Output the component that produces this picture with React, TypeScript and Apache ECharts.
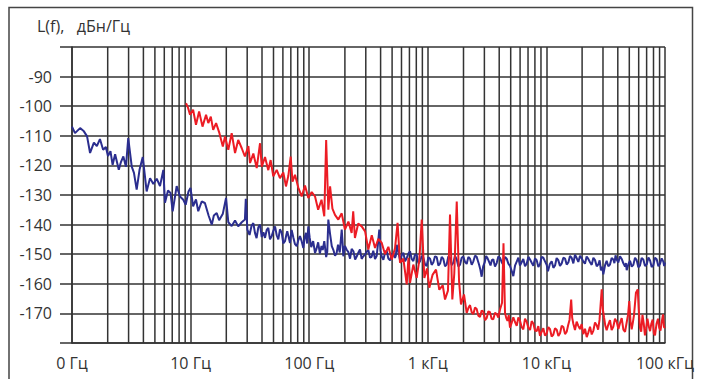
import React, { useEffect, useRef } from "react";
import * as echarts from "echarts";

// Tick labels for the decades 1 Hz ... 100 kHz
const xTickLabels = ["0 Гц", "10 Гц", "100 Гц", "1 кГц", "10 кГц", "100 кГц"];
const yTitle = "L(f),   дБн/Гц";
const minorMultipliers = [2, 3, 4, 5, 6, 7, 8, 9];
const decades = [1, 10, 100, 1000, 10000];

// Blue trace: [frequency Hz, level dBc/Hz]
const blueTrace: [number, number][] = [
  [1, -106.9], [1.06, -109.1], [1.17, -107.4], [1.26, -108.5], [1.34, -110.2], [1.42, -115.8], [1.53, -112.3], [1.62, -113.5], [1.72, -111.1], [1.83, -114.7],
  [1.93, -113.8], [2.01, -116.8], [2.11, -115.2], [2.2, -119.8], [2.31, -116.2], [2.48, -121.5], [2.59, -118.8], [2.71, -117], [2.85, -120.5], [2.98, -110.8],
  [3.19, -120.4], [3.33, -122.5], [3.51, -128.2], [3.71, -121.5], [3.95, -117.2], [4.26, -128.8], [4.55, -124.3], [4.85, -126.3], [5.18, -124.5], [5.52, -127],
  [5.89, -121.5], [6.08, -132.6], [6.45, -128.5], [6.77, -129.3], [7.06, -135.5], [7.63, -127], [8.14, -130.5], [8.68, -131.6], [9.09, -133.3], [9.6, -128.8],
  [9.98, -127.6], [10.5, -133.8], [11.1, -131.5], [11.6, -135.5], [12.4, -132.2], [13.2, -132.7], [14.2, -137], [15.1, -140], [15.7, -136.9], [16.6, -136.1],
  [17.4, -138.5], [18.7, -136.3], [19.9, -131], [20.8, -139.2], [22.2, -140.5], [23.7, -138.6], [25.2, -140.6], [27, -139.2], [28.7, -138.3], [29.2, -131.3],
  [30.1, -141.7], [31.4, -143.5], [32.7, -140.3], [33.8, -139.5], [34.9, -142.8], [36, -144.6], [37.2, -141], [38.5, -140], [39.8, -144.2], [41.1, -142.6],
  [42.4, -144.5], [43.8, -141.8], [45.2, -141.1], [46.7, -145], [48.3, -143.9], [49.9, -142], [51.5, -140.6], [53.2, -143.6], [54.9, -145], [56.7, -141.6],
  [58.6, -142.7], [60.5, -146.3], [62.5, -145.6], [63.9, -143.8], [65.3, -142.2], [67.1, -144.2], [68.9, -146.2], [71.1, -141.8], [73.4, -144.3], [75.9, -146.6],
  [78.5, -147.3], [81, -145.2], [83.6, -143.9], [86.4, -145.6], [89.2, -147.9], [91.6, -144.4], [94, -142.8], [96.1, -146.4], [98.3, -140.6],
  [101, -144.5], [104, -147.6], [108, -145.6], [112, -149.6], [115, -148.3], [119, -146], [123, -149.8], [127, -147.2], [130, -148.6], [134, -145.6],
  [136.5, -148.2], [139, -151], [142, -149.2], [145, -138.3], [150, -143.2], [155, -147.3], [160, -148.6], [165, -150.5], [170, -149.8], [175, -146.8],
  [181, -149.4], [188, -141.7], [191, -145.8], [194, -150.7], [200, -147.2], [207, -148.5], [214, -149.3], [221, -151.5], [228, -148.2], [236, -149],
  [244, -151.8], [252, -150.7], [260, -149.4], [268, -148.4], [277, -151.6], [286, -150.7], [295, -150.2], [305, -149.2], [315, -148.6], [326, -151.2],
  [336, -150.9], [347, -148.8], [359, -151.6], [371, -150.5], [380, -146.5], [390, -141.7], [399, -148.8], [409, -150.8], [422, -151.9], [436, -149.5],
  [450, -148.8], [465, -151.5], [481, -152.1], [497, -149.8], [513, -150.2], [529, -151.2], [538, -150.5], [547, -146.8], [565, -149.3], [583, -152],
  [602, -150.3], [622, -149.5], [643, -152.4], [664, -151.3], [686, -149.8], [708, -149], [731, -151.6], [755, -152.3], [780, -150.1], [806, -150.2],
  [833, -153.1], [860, -152.4], [888, -150.6], [917, -151.2], [947, -153.4], [979, -154], [1011, -151], [1045, -151.5], [1078, -153.6], [1113, -152.8],
  [1150, -150.7], [1189, -151], [1228, -153.8], [1268, -153.2], [1309, -150.9], [1352, -151.6], [1397, -154.1], [1443, -153.5], [1490, -150.8], [1539, -151.2],
  [1589, -153.7], [1641, -152.9], [1696, -150.6], [1754, -151.8], [1811, -154.2], [1871, -153.5], [1931, -151.2], [1991, -150.8], [2058, -152.6], [2128, -153.3],
  [2198, -150.9], [2270, -151.5], [2345, -153.6], [2422, -152.4], [2501, -150.5], [2583, -150.9], [2643, -152.2], [2704, -153.5], [2774, -155.2], [2845, -157.6],
  [2930, -154.1], [3018, -152.8], [3101, -150.6], [3186, -151.3], [3281, -152.5], [3380, -153.8], [3472, -152], [3567, -151.7], [3686, -154.2], [3810, -153],
  [3935, -150.8], [4064, -151.2], [4197, -152.7], [4335, -153.6], [4477, -150.9], [4625, -151.5], [4777, -153.2], [4933, -154], [5094, -155.6], [5261, -157.4],
  [5438, -153.9], [5620, -152.5], [5801, -151.2], [5988, -153.8], [6184, -152.7], [6386, -151.6], [6601, -154.1], [6823, -153.2], [7047, -150.9], [7278, -151.8],
  [7516, -152.9], [7762, -153.9], [8016, -151.4], [8279, -152], [8550, -154.3], [8830, -153.4], [9119, -150.9], [9418, -151.2], [9729, -152.4], [10050, -153.6],
  [10310, -155.8], [10690, -153.3], [11080, -152.4], [11450, -154.6], [11830, -153.8], [12200, -151.3], [12590, -152], [13020, -154], [13460, -153.1], [13900, -151.2],
  [14360, -151.5], [14830, -153.5], [15310, -152.8], [15810, -150.6], [16330, -151.2], [16870, -153.1], [17420, -150.2], [17990, -151.3], [18580, -152.6], [19210, -150.5],
  [19860, -151.4], [20490, -152.5], [21150, -153.2], [21840, -150.8], [22560, -151.6], [23320, -152.7], [24100, -153.6], [24890, -151.2], [25700, -152], [26550, -154.1],
  [27420, -153.4], [28120, -152.1], [28840, -155.5], [29510, -154.2], [30200, -156.8], [31190, -153.8], [32210, -152.2], [33270, -154.1], [34360, -153.5], [35490, -151.3],
  [36650, -151.8], [37460, -153], [38280, -150.4], [39320, -152], [40390, -152.8], [41750, -150.7], [43150, -151.6], [44570, -153.1], [46030, -154.2], [46780, -153],
  [47550, -155.4], [49110, -153.4], [50720, -152.2], [52380, -154.2], [54100, -153.6], [55870, -151.2], [57700, -152], [59570, -154.4], [61510, -153.8], [63530, -151.3],
  [65620, -151.8], [67850, -154], [70150, -153.4], [72450, -151.1], [74820, -152.1], [77180, -154.3], [79620, -153.8], [82320, -151.2], [85110, -151.7], [87900, -154.1],
  [90780, -153.2], [93760, -151.4], [96830, -152.5], [98400, -154], [100000, -152.8],
];

// Red trace: [frequency Hz, level dBc/Hz]
const redTrace: [number, number][] = [
  [9.15, -99], [9.51, -100.5], [9.89, -102.9], [10.5, -101.2], [11.1, -106.3], [11.8, -101.8], [12.6, -106.9], [13.5, -102.9], [14.1, -105.7], [14.8, -103.5],
  [15.5, -108], [16.4, -105.7], [17.5, -109.1], [18.7, -113.6], [19.5, -110.2], [20.8, -114.7], [22.2, -109.1], [23.7, -115.8], [25.2, -111.4], [27, -114.2],
  [28.7, -117], [30.7, -113.5], [31.7, -119.2], [33.8, -116], [36.1, -120.9], [38.5, -112.5], [39.8, -120.4], [42.4, -117.2], [45.2, -121.6], [47.3, -118.2],
  [49.8, -123.7], [53.2, -121.5], [56.7, -124.3], [60.5, -122.4], [63.7, -127.1], [66.7, -123.5], [69.8, -117], [72.3, -125.5], [75.9, -123.2], [80.9, -127.5],
  [86.4, -130.5], [92.2, -126.8], [98.3, -131], [105, -129], [112, -130.5], [119, -135], [127, -131.6], [134, -137.2], [139, -111.4], [145, -135],
  [150, -127.1], [157, -134.6], [165, -136.7], [176, -138.3], [188, -136.2], [200, -141.7], [214, -139], [228, -142.8], [235, -135.5], [243, -144.5],
  [259, -139.6], [277, -140.6], [296, -142.3], [315, -148.4], [337, -143.6], [359, -147.9], [383, -144.8], [409, -146.2], [436, -150], [465, -147.5],
  [497, -151.8], [529, -148], [556, -139.4], [583, -152.9], [622, -151.5], [664, -160.2], [687, -151.2], [708, -159.7], [755, -153.5], [806, -158],
  [848, -152], [889, -138.3], [935, -158], [985, -154.8], [1030, -161.3], [1096, -157], [1173, -155.2], [1250, -162], [1336, -160.5], [1397, -165.3],
  [1479, -162.3], [1539, -136.6], [1610, -165.3], [1672, -156.6], [1754, -132.2], [1834, -159], [1905, -167], [2019, -163.6], [2128, -169.8], [2198, -168.2],
  [2270, -167.2], [2345, -169.6], [2422, -170.2], [2501, -168], [2583, -168.5], [2668, -170.8], [2754, -171.2], [2845, -169], [2938, -169.4], [3040, -172.3],
  [3141, -171.5], [3240, -169.3], [3343, -169.6], [3453, -171.8], [3567, -172], [3686, -169.8], [3810, -170.2], [3935, -171.4], [4064, -168.7], [4227, -166.4],
  [4347, -146.3], [4477, -169.8], [4588, -171.6], [4699, -172.5], [4815, -170.6], [4933, -174.8], [5094, -173.2], [5261, -171.3], [5438, -172.9], [5620, -174.2],
  [5801, -171.4], [5988, -172.5], [6184, -174.6], [6386, -175.4], [6601, -171.8], [6823, -172.8], [7047, -174.9], [7278, -175.6], [7516, -172.6], [7762, -173.4],
  [8016, -175.8], [8279, -176], [8550, -174.3], [8830, -177.6], [9119, -176.2], [9418, -175], [9729, -177.5], [10050, -176.8], [10380, -174.6], [10720, -175.3],
  [11070, -177.8], [11430, -177.2], [11820, -175], [12220, -175.5], [12620, -177.6], [13030, -176.7], [13460, -174.2], [13900, -174.6], [14360, -177], [14830, -176.2],
  [15250, -174], [15670, -172.2], [16180, -165.3], [16500, -171.5], [16870, -173.5], [17420, -175.6], [17990, -172.8], [18580, -174.2], [19190, -175.3], [19820, -173.6],
  [20480, -177], [21170, -175.2], [21880, -178], [22590, -176.4], [23330, -174.5], [24100, -177.1], [24890, -175.8], [25700, -173.1], [26550, -174], [27300, -175.5],
  [28050, -172.2], [29270, -161.9], [29900, -168.5], [30600, -171.3], [31390, -174.2], [32210, -175.7], [33270, -173.8], [34360, -172.3], [35490, -175.6], [36650, -174.5],
  [37890, -171.8], [39170, -172.8], [40460, -175.3], [41780, -173.2], [43150, -171.6], [44560, -175.5], [46030, -176.2], [47550, -173], [48800, -170.5], [50000, -165.8],
  [51150, -172.6], [52360, -175.4], [53570, -173.1], [54810, -170.5], [56890, -163], [58880, -161.9], [60200, -169.2], [61510, -174.8], [63020, -176.2], [64570, -170.5],
  [66150, -173.4], [67760, -177.4], [69420, -175], [71120, -171.8], [72950, -174.3], [74820, -176], [76740, -173.4], [78710, -172.1], [80520, -176.8], [82370, -177.4],
  [84800, -173.5], [87300, -171.8], [89430, -174.9], [91620, -175.8], [93880, -172.9], [96190, -170.3], [98080, -174.6], [100000, -175],
];

const GRID_COLOR = "#333333";
const TEXT_COLOR = "#333333";
const FONT = "'Open Sans', 'DejaVu Sans', sans-serif";

export default function App() {
  const ref = useRef<HTMLDivElement>(null);

  useEffect(() => {
    if (!ref.current) return;
    const chart = echarts.init(ref.current, undefined, { renderer: "svg" });

    const minorLines: number[][] = [];
    decades.forEach((d) => minorMultipliers.forEach((m) => minorLines.push([d * m, -180])));

    chart.setOption({
      animation: false,
      backgroundColor: "#ffffff",
      textStyle: { fontFamily: FONT },
      grid: { left: 72, right: 44, top: 47, bottom: 36, containLabel: false },
      graphic: [
        {
          type: "rect",
          shape: { x: 9, y: 7.5, width: 683.5, height: 420 },
          style: { fill: "none", stroke: "#444", lineWidth: 1.5 },
          silent: true,
        },
        {
          type: "text",
          left: 37,
          top: 18,
          style: { text: yTitle, fill: TEXT_COLOR, fontSize: 16, fontFamily: FONT },
        },
      ],
      xAxis: {
        type: "log",
        logBase: 10,
        min: 1,
        max: 100000,
        axisLine: { show: true, lineStyle: { color: GRID_COLOR, width: 1.5 } },
        axisTick: { show: false },
        splitLine: { show: true, lineStyle: { color: GRID_COLOR, width: 1.5 } },
        axisLabel: {
          color: TEXT_COLOR,
          fontSize: 16,
          fontFamily: FONT,
          margin: 12,
          showMinLabel: true,
          showMaxLabel: true,
          formatter: (v: number) => {
            const i = Math.round(Math.log10(v));
            return xTickLabels[i] ?? "";
          },
        },
      },
      yAxis: {
        type: "value",
        min: -180,
        max: -80,
        interval: 10,
        axisLine: { show: true, lineStyle: { color: GRID_COLOR, width: 1.5 } },
        axisTick: { show: true, length: 12, lineStyle: { color: GRID_COLOR, width: 1.5 } },
        splitLine: { show: true, lineStyle: { color: GRID_COLOR, width: 1.5 } },
        axisLabel: {
          color: TEXT_COLOR,
          fontSize: 16,
          fontFamily: FONT,
          margin: 20,
          formatter: (v: number) => (v === -80 || v === -180 ? "" : String(v)),
        },
      },
      series: [
        {
          type: "custom",
          z: 1,
          silent: true,
          data: minorLines,
          renderItem: (_params: any, api: any) => {
            const f = api.value(0);
            const p1 = api.coord([f, -180]);
            const p2 = api.coord([f, -80]);
            return {
              type: "line",
              shape: { x1: p1[0], y1: p1[1], x2: p2[0], y2: p2[1] },
              style: { stroke: GRID_COLOR, lineWidth: 1.5 },
            };
          },
        },
        {
          type: "line",
          z: 3,
          data: blueTrace,
          showSymbol: false,
          symbol: "none",
          lineStyle: { color: "#2b2e8f", width: 2 },
        },
        {
          type: "line",
          z: 4,
          data: redTrace,
          showSymbol: false,
          symbol: "none",
          lineStyle: { color: "#ec1c24", width: 2 },
        },
      ],
    });

    return () => chart.dispose();
  }, []);

  return (
    <div
      ref={ref}
      style={{ position: "absolute", left: 0, top: 0, width: 709, height: 379 }}
    />
  );
}
